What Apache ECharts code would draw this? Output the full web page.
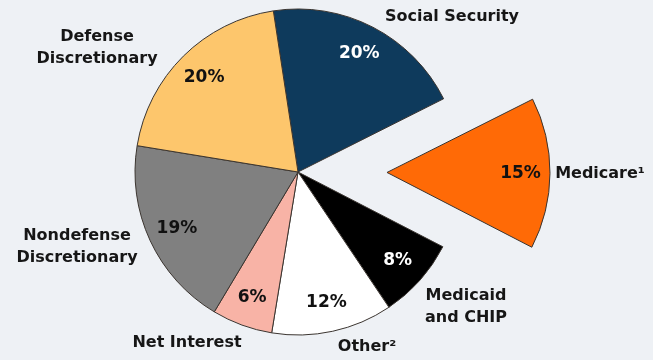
<!DOCTYPE html>
<html><head><meta charset="utf-8">
<script src="https://cdn.jsdelivr.net/npm/echarts@6/dist/echarts.min.js"></script>
<style>html,body{margin:0;padding:0;background:#eef1f5;}#c{width:653px;height:360px;}</style>
</head><body><div id="c"></div>
<script>
const categories = ['Social Security', 'Medicare\u00B9', 'Medicaid\nand CHIP', 'Other\u00B2', 'Net Interest', 'Nondefense\nDiscretionary', 'Defense\nDiscretionary'];
const values = [20, 15, 8, 12, 6, 19, 20];
const colors = ['#0e3a5c', '#ff6a06', '#000000', '#ffffff', '#f8b3a6', '#808080', '#fdc66c'];
const pctColors = ['#ffffff', '#111111', '#ffffff', '#111111', '#111111', '#111111', '#111111'];
const explodedIndex = 1;
// label positions for category names (style)
const namePos = [[452, 17], [607, 175], [466, 307], [367, 347], [187, 343], [77, 247], [97, 48]];

const C = [298, 172], R = 163;
const font = 'DejaVu Sans';
const mk = (withColor) => categories.map((c, i) => ({
  name: c, value: values[i], selected: i === explodedIndex,
  itemStyle: withColor ? { color: colors[i] } : { color: 'rgba(0,0,0,0)', borderWidth: 0 },
  label: withColor ? {} : { color: pctColors[i] }
}));
const chart = echarts.init(document.getElementById('c'));
chart.setOption({
  backgroundColor: '#eef1f5',
  animation: false,
  series: [{
    type: 'pie', silent: true, center: C, radius: [0, R], startAngle: 98.7, clockwise: true,
    selectedMode: 'single', selectedOffset: 89,
    itemStyle: { borderColor: '#3b3530', borderWidth: 1 },
    emphasis: { disabled: true },
    data: mk(true),
    label: { show: true, position: 'outside', formatter: '{b}', fontFamily: font, fontWeight: 'bold', fontSize: 16, color: '#161616', lineHeight: 22, align: 'center', overflow: 'none', width: 300 },
    labelLine: { show: false },
    labelLayout: p => ({ x: namePos[p.dataIndex][0], y: namePos[p.dataIndex][1], align: 'center', verticalAlign: 'middle' })
  }, {
    type: 'pie', silent: true, center: C, radius: [98, R], startAngle: 98.7, clockwise: true,
    selectedMode: 'single', selectedOffset: 89,
    emphasis: { disabled: true },
    data: mk(false),
    label: { show: true, position: 'inside', formatter: '{c}%', fontFamily: font, fontWeight: 'bold', fontSize: 17 },
    labelLine: { show: false }
  }]
});
</script></body></html>
